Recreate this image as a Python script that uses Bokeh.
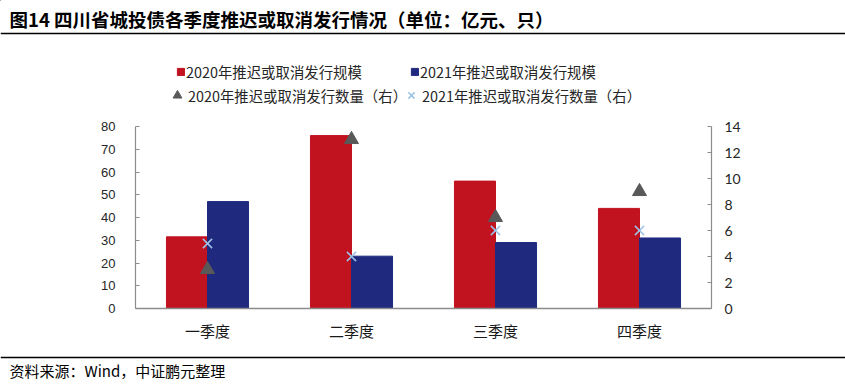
from bokeh.plotting import figure
from bokeh.models import (Range1d, LinearAxis, FixedTicker, ColumnDataSource, Legend,
                          LegendItem, Label, Span, FactorRange)
from bokeh.transform import dodge
from bokeh.layouts import column
from bokeh.embed import file_html
from bokeh.resources import INLINE

# ---------------- data ----------------
quarters = ["一季度", "二季度", "三季度", "四季度"]
scale_2020 = [31.5, 76, 56, 44]      # 亿元 (left axis)
scale_2021 = [47, 23, 29, 31]        # 亿元 (left axis)
count_2020 = [3, 13, 7, 9]           # 只 (right axis)
count_2021 = [5, 4, 6, 6]            # 只 (right axis)
left_ticks = [0, 10, 20, 30, 40, 50, 60, 70, 80]
right_ticks = [0, 2, 4, 6, 8, 10, 12, 14]

title_text = "图14 四川省城投债各季度推迟或取消发行情况（单位：亿元、只）"
source_text = "资料来源：Wind，中证鹏元整理"
legend_labels = ["2020年推迟或取消发行规模", "2021年推迟或取消发行规模",
                 "2020年推迟或取消发行数量（右）", "2021年推迟或取消发行数量（右）"]

# ---------------- styles ----------------
W = 845
RED = "#C1121F"
BLUE = "#1F2A7F"
GRAY = "#595959"
LBLUE = "#9DC3E6"
AXIS = "#8C8C8C"
CJK = "Noto Sans CJK SC"

def blank(fig):
    fig.grid.visible = False
    fig.outline_line_color = None
    fig.background_fill_color = None
    fig.border_fill_color = "white"

# ---------------- header (title + legend) ----------------
HH = 118
header = figure(width=W, height=HH, x_range=Range1d(0, W), y_range=Range1d(HH, 0),
                output_backend="svg", toolbar_location=None, min_border=0,
                x_axis_location=None, y_axis_location=None, frame_align=False)
blank(header)
header.add_layout(Label(x=9, y=18, text=title_text, text_baseline="middle",
                        text_font=CJK, text_font_style="bold", text_font_size="18.5px",
                        text_color="black"))
header.add_layout(Span(location=33, dimension="width", line_color="black", line_width=1.5))

# legend proxies (kept outside the visible area)
d1 = header.vbar(x=[-1000], top=[-1000], width=1, fill_color=RED, line_color=RED)
d2 = header.vbar(x=[-1000], top=[-1000], width=1, fill_color=BLUE, line_color=BLUE)
d3 = header.scatter(x=[-1000], y=[-1000], marker="triangle", fill_color=GRAY, line_color=GRAY)
d4 = header.scatter(x=[-1000], y=[-1000], marker="x", line_color=LBLUE, line_width=1.5)

def add_leg(label, rend, loc, gw, gh, standoff):
    lg = Legend(items=[LegendItem(label=label, renderers=[rend])], location=loc,
                glyph_width=gw, glyph_height=gh, label_standoff=standoff,
                padding=0, margin=0, spacing=0, border_line_color=None,
                background_fill_alpha=0, label_height=20,
                label_text_font=CJK, label_text_font_size="14.4px",
                label_text_color="#262626")
    header.add_layout(lg, "center")

add_leg(legend_labels[0], d1, (176, 36), 9, 9, 1)
add_leg(legend_labels[1], d2, (410, 36), 9, 9, 1)
add_leg(legend_labels[2], d3, (166, 12), 22, 22, 0)
add_leg(legend_labels[3], d4, (400, 12), 22, 22, 0)

# ---------------- chart ----------------
src = ColumnDataSource(dict(q=quarters, s20=scale_2020, s21=scale_2021,
                            c20=count_2020, c21=count_2021))

chart = figure(width=W, height=227, x_range=FactorRange(*quarters), y_range=Range1d(0, 80),
               output_backend="svg", toolbar_location=None,
               min_border_left=135, min_border_right=134, min_border_top=8,
               min_border_bottom=37, frame_align=False)
blank(chart)
chart.extra_y_ranges = {"right": Range1d(0, 14)}

BW = 0.285
chart.vbar(x=dodge("q", -BW / 2, range=chart.x_range), top="s20", width=BW, source=src,
           fill_color=RED, line_color=RED)
chart.vbar(x=dodge("q", BW / 2, range=chart.x_range), top="s21", width=BW, source=src,
           fill_color=BLUE, line_color=BLUE)
chart.scatter(x="q", y="c20", y_range_name="right", source=src, marker="triangle",
              size=14, fill_color=GRAY, line_color=GRAY)
chart.scatter(x="q", y="c21", y_range_name="right", source=src, marker="x",
              size=13, line_color=LBLUE, line_width=1.5)

xa = chart.xaxis[0]
xa.axis_line_color = AXIS
xa.axis_line_width = 1.5
xa.major_tick_line_color = None
xa.minor_tick_line_color = None
xa.major_label_standoff = 5
xa.major_label_text_font = CJK
xa.major_label_text_font_size = "15px"
xa.major_label_text_color = "#1a1a1a"

ya = chart.yaxis[0]
ya.ticker = FixedTicker(ticks=left_ticks)
ya.axis_line_color = AXIS
ya.axis_line_width = 1.2
ya.major_tick_line_color = AXIS
ya.major_tick_in = 4
ya.major_tick_out = 0
ya.minor_tick_line_color = None
ya.major_label_standoff = 20
ya.major_label_text_font = "Liberation Sans"
ya.major_label_text_font_size = "13px"
ya.major_label_text_color = "#262626"

ra = LinearAxis(y_range_name="right", ticker=FixedTicker(ticks=right_ticks))
ra.axis_line_color = AXIS
ra.axis_line_width = 1.2
ra.major_tick_line_color = AXIS
ra.major_tick_in = 4
ra.major_tick_out = 0
ra.minor_tick_line_color = None
ra.major_label_standoff = 13
ra.major_label_text_font = "Lato"
ra.major_label_text_font_size = "14px"
ra.major_label_text_color = "#262626"
chart.add_layout(ra, "right")

# ---------------- footer ----------------
FH = 40
footer = figure(width=W, height=FH, x_range=Range1d(0, W), y_range=Range1d(FH, 0),
                output_backend="svg", toolbar_location=None, min_border=0,
                x_axis_location=None, y_axis_location=None, frame_align=False)
blank(footer)
footer.add_layout(Span(location=12, dimension="width", line_color="black", line_width=1.5))
footer.add_layout(Label(x=9, y=25, text=source_text, text_baseline="middle",
                        text_font=CJK, text_font_size="15px", text_color="black"))

layout = column(header, chart, footer, spacing=0)
open("out.html", "w").write(file_html(layout, INLINE))
